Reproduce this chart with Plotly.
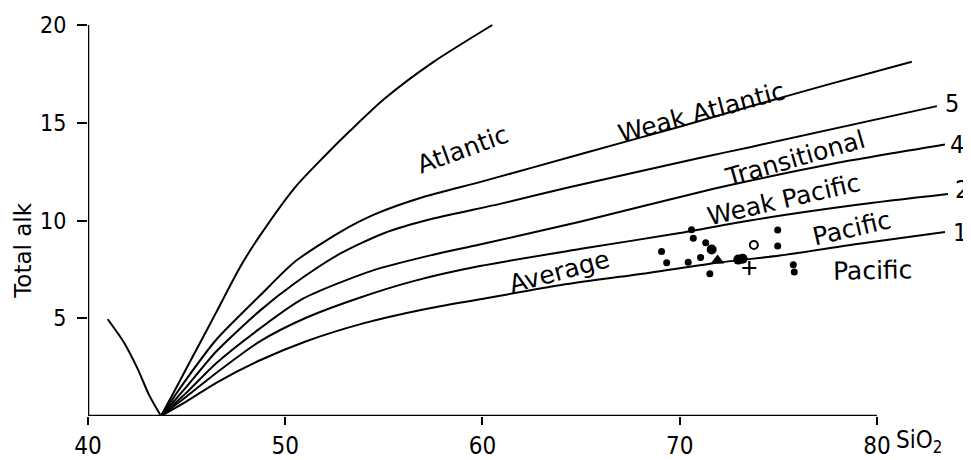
import plotly.graph_objects as go

# ---------------- data ----------------
# left descending curve
left_x = [41.0, 41.8, 42.5, 43.1, 43.7]
left_y = [4.95, 3.8, 2.45, 1.07, 0.0]

# steep Atlantic boundary curve
atl_x = [43.7, 44.5, 45.5, 46.5, 47.7, 48.7, 50.5, 52.0, 53.3, 55.0, 57.5, 60.5]
atl_y = [0.0, 1.5, 3.4, 5.3, 7.6, 9.2, 11.7, 13.3, 14.6, 16.2, 18.1, 20.0]

# Atlantic / Weak Atlantic boundary (unlabelled top line of the bundle)
top_x = [43.7, 45.0, 46.5, 48.72, 50.5, 52.78, 54.5, 57.0, 60.0, 65.0, 70.0, 73.56, 77.5, 81.77]
top_y = [0.0, 1.9, 3.9, 6.16, 7.9, 9.41, 10.3, 11.2, 12.0, 13.4, 14.8, 15.83, 16.95, 18.12]

# line 5
l5_x = [43.7, 45.0, 46.5, 48.72, 50.5, 52.78, 55.0, 57.5, 60.89, 64.4, 71.0, 73.56, 83.04]
l5_y = [0.0, 1.5, 3.3, 5.39, 6.8, 8.3, 9.35, 10.1, 10.85, 11.7, 13.2, 13.75, 15.85]

# line 4
l4_x = [43.7, 45.0, 46.5, 48.72, 50.9, 54.45, 57.5, 59.87, 65.0, 71.0, 73.56, 78.0, 83.45]
l4_y = [0.0, 1.2, 2.7, 4.48, 6.0, 7.45, 8.25, 8.77, 9.95, 11.45, 12.03, 12.95, 13.89]

# line 2
l2_x = [43.7, 45.0, 46.5, 48.72, 51.0, 53.62, 56.5, 59.87, 65.0, 70.01, 73.56, 79.0, 83.6]
l2_y = [0.0, 1.0, 2.2, 3.82, 5.0, 6.0, 6.9, 7.67, 8.55, 9.36, 10.0, 10.8, 11.35]

# line 1
l1_x = [43.7, 45.0, 46.5, 48.72, 51.0, 54.0, 57.0, 59.87, 64.0, 68.49, 72.0, 75.08, 79.0, 83.45]
l1_y = [0.0, 0.75, 1.7, 2.85, 3.8, 4.75, 5.45, 5.97, 6.7, 7.33, 7.85, 8.21, 8.8, 9.41]

# samples
dots_x = [70.6, 70.69, 69.08, 69.34, 70.43, 71.06, 71.32, 71.53, 74.97, 74.97, 75.76, 75.81]
dots_y = [9.53, 9.09, 8.41, 7.84, 7.87, 8.11, 8.86, 7.28, 9.52, 8.69, 7.74, 7.36]
big_x = [71.62, 72.97, 73.19]
big_y = [8.52, 8.0, 8.04]
tri_x = [71.92]
tri_y = [7.96]
plus_x = [73.53]
plus_y = [7.57]
open_x = [73.76]
open_y = [8.75]

x_ticks = [40, 50, 60, 70, 80]
y_ticks = [5, 10, 15, 20]

FONT = "DejaVu Sans"
NARROW = "DejaVu Sans Condensed, DejaVu Sans"
fig = go.Figure()

for xs, ys in [(left_x, left_y), (atl_x, atl_y), (top_x, top_y), (l5_x, l5_y),
               (l4_x, l4_y), (l2_x, l2_y), (l1_x, l1_y)]:
    fig.add_trace(go.Scatter(x=xs, y=ys, mode="lines",
                             line=dict(color="black", width=2, shape="spline", smoothing=0.7),
                             showlegend=False, hoverinfo="skip"))

fig.add_trace(go.Scatter(x=dots_x, y=dots_y, mode="markers",
                         marker=dict(color="black", size=7), showlegend=False))
fig.add_trace(go.Scatter(x=big_x, y=big_y, mode="markers",
                         marker=dict(color="black", size=10), showlegend=False))
fig.add_trace(go.Scatter(x=tri_x, y=tri_y, mode="markers",
                         marker=dict(color="black", size=12, symbol="triangle-up"), showlegend=False))
fig.add_trace(go.Scatter(x=plus_x, y=plus_y, mode="markers",
                         marker=dict(size=10, symbol="cross-thin", line=dict(color="black", width=2.2)),
                         showlegend=False))
fig.add_trace(go.Scatter(x=open_x, y=open_y, mode="markers",
                         marker=dict(size=8, symbol="circle-open", color="black", line=dict(width=2)),
                         showlegend=False))

# axis lines (only from 40 to 80 and 0 to 20)
fig.add_shape(type="line", x0=40, x1=80, y0=0, y1=0, xref="x", yref="y",
              line=dict(color="black", width=2.5))
fig.add_shape(type="line", x0=40, x1=40, y0=0, y1=20, xref="x", yref="y",
              line=dict(color="black", width=2.5))

labels = [
    ("Atlantic", 59.0, 13.65, -20),
    ("Weak Atlantic", 71.1, 15.5, -15),
    ("Transitional", 75.85, 13.15, -16),
    ("Weak Pacific", 75.3, 11.05, -13),
    ("Average", 63.9, 7.4, -15),
    ("Pacific", 78.7, 9.6, -13),
    ("Pacific", 79.8, 7.43, -1),
]
for t, x, y, a in labels:
    fig.add_annotation(x=x, y=y, xref="x", yref="y", text=t, textangle=a, showarrow=False,
                       font=dict(family=FONT, size=25, color="black"))

for t, x, y in [("5", 83.8, 16.0), ("4", 84.05, 13.9), ("2", 84.3, 11.6), ("1", 84.2, 9.4)]:
    fig.add_annotation(x=x, y=y, xref="x", yref="y", text=t, showarrow=False,
                       font=dict(family=NARROW, size=25, color="black"))

fig.add_annotation(x=80, y=0, xref="x", yref="y", text="SiO<sub>2</sub>", showarrow=False,
                   xanchor="left", yanchor="top", xshift=17, yshift=-8,
                   font=dict(family=NARROW, size=24, color="black"))
fig.add_annotation(x=-0.0736, y=0.405, xref="paper", yref="paper", text="Total alk",
                   textangle=-90, showarrow=False, xanchor="center", yanchor="middle",
                   font=dict(family=FONT, size=23, color="black"))

# page body has an 8px margin: figure is 963x452 so the plot area sits where the reference has it
fig.update_layout(
    width=963, height=452,
    margin=dict(l=80, r=0, t=0, b=42),
    paper_bgcolor="white", plot_bgcolor="white",
    font=dict(family=FONT, color="black"),
    xaxis=dict(range=[40, 84.77], showgrid=False, zeroline=False, showline=False,
               tickvals=x_ticks, ticks="outside", ticklen=8, tickwidth=2, tickcolor="black",
               tickfont=dict(family=NARROW, size=24, color="black"), ticklabelstandoff=0),
    yaxis=dict(range=[0, 20.87], showgrid=False, zeroline=False, showline=False,
               tickvals=y_ticks, ticks="outside", ticklen=10, tickwidth=2, tickcolor="black",
               tickfont=dict(family=NARROW, size=23, color="black"), ticklabelstandoff=6),
)

fig.write_html("out.html")
